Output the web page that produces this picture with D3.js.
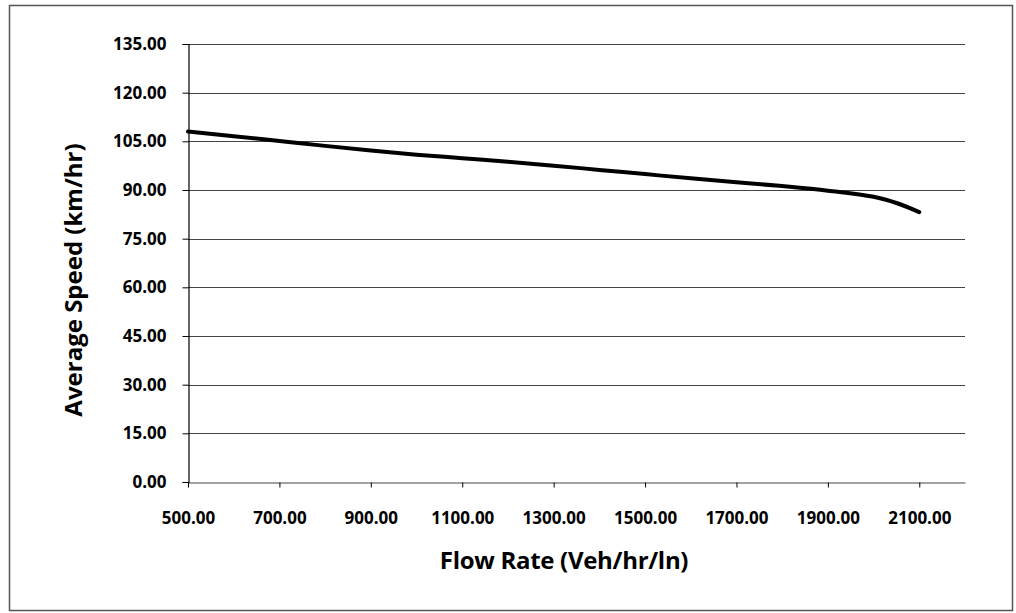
<!DOCTYPE html>
<html>
<head>
<meta charset="utf-8">
<script src="https://cdn.jsdelivr.net/npm/d3@7"></script>
<style>
  html, body { margin: 0; padding: 0; background: #fff; }
  svg { display: block; }
  text { font-family: 'Open Sans', sans-serif; font-weight: bold; fill: #000; }
</style>
</head>
<body>
<div id="chart"></div>
<script>
// Speed-flow curve
const flowRates = [500, 600, 700, 800, 900, 1000, 1100, 1200, 1300, 1400, 1500, 1600, 1700, 1800, 1900, 2000, 2050, 2100];
const avgSpeeds = [108.0, 106.6, 105.1, 103.6, 102.2, 100.9, 99.8, 98.7, 97.5, 96.2, 94.9, 93.6, 92.4, 91.2, 89.8, 87.9, 86.0, 83.2];

const xTicks = [500, 700, 900, 1100, 1300, 1500, 1700, 1900, 2100];
const yTicks = [0, 15, 30, 45, 60, 75, 90, 105, 120, 135];

const xTitle = 'Flow Rate (Veh/hr/ln)';
const yTitle = 'Average Speed (km/hr)';

const width = 1016, height = 613;
const margin = { left: 188, right: 51, top: 44, bottom: 131 };

const svg = d3.select('#chart').append('svg')
  .attr('width', width)
  .attr('height', height);

// outer frame
svg.append('rect')
  .attr('x', 9.5).attr('y', 5.5)
  .attr('width', 1003).attr('height', 605)
  .attr('fill', 'none')
  .attr('stroke', '#555')
  .attr('stroke-width', 1.5);

const x = d3.scaleLinear().domain([500, 2200]).range([margin.left, width - margin.right]);
const y = d3.scaleLinear().domain([0, 135]).range([height - margin.bottom, margin.top]);

// horizontal gridlines
svg.append('g')
  .selectAll('line')
  .data(yTicks.filter(d => d > 0))
  .join('line')
  .attr('x1', x(500)).attr('x2', x(2200))
  .attr('y1', d => Math.round(y(d)) + 0.5)
  .attr('y2', d => Math.round(y(d)) + 0.5)
  .attr('stroke', '#444')
  .attr('stroke-width', 1.2);

// y axis
const yAxis = svg.append('g')
  .attr('transform', `translate(${margin.left + 0.5},0)`)
  .call(d3.axisLeft(y).tickValues(yTicks).tickFormat(d3.format('.2f')).tickSize(6).tickPadding(16));
yAxis.select('.domain').attr('stroke', '#000').attr('stroke-width', 1.2);
yAxis.selectAll('.tick line').attr('stroke', '#000');
yAxis.selectAll('text')
  .style('font-size', '17px')
  .attr('fill', '#000');

// x axis
const xAxis = svg.append('g')
  .attr('transform', `translate(0,${Math.round(y(0)) + 0.5})`)
  .call(d3.axisBottom(x).tickValues(xTicks).tickFormat(d3.format('.2f')).tickSizeInner(5).tickSizeOuter(0).tickPadding(24));
xAxis.select('.domain').attr('stroke', '#444').attr('stroke-width', 1.2);
xAxis.selectAll('.tick line').attr('stroke', '#000');
xAxis.selectAll('text')
  .style('font-size', '17px')
  .attr('fill', '#000');

// speed line
const line = d3.line()
  .x((d, i) => x(flowRates[i]))
  .y(d => y(d))
  .curve(d3.curveMonotoneX);

svg.append('path')
  .datum(avgSpeeds)
  .attr('d', line)
  .attr('fill', 'none')
  .attr('stroke', '#000')
  .attr('stroke-width', 4)
  .attr('stroke-linecap', 'round');

// axis titles
svg.append('text')
  .attr('x', 564)
  .attr('y', 569)
  .attr('text-anchor', 'middle')
  .style('font-size', '24px')
  .style('letter-spacing', '-0.3px')
  .text(xTitle);

svg.append('text')
  .attr('transform', 'translate(82,280) rotate(-90)')
  .attr('text-anchor', 'middle')
  .style('font-size', '24px')
  .style('letter-spacing', '0px')
  .text(yTitle);
</script>
</body>
</html>
